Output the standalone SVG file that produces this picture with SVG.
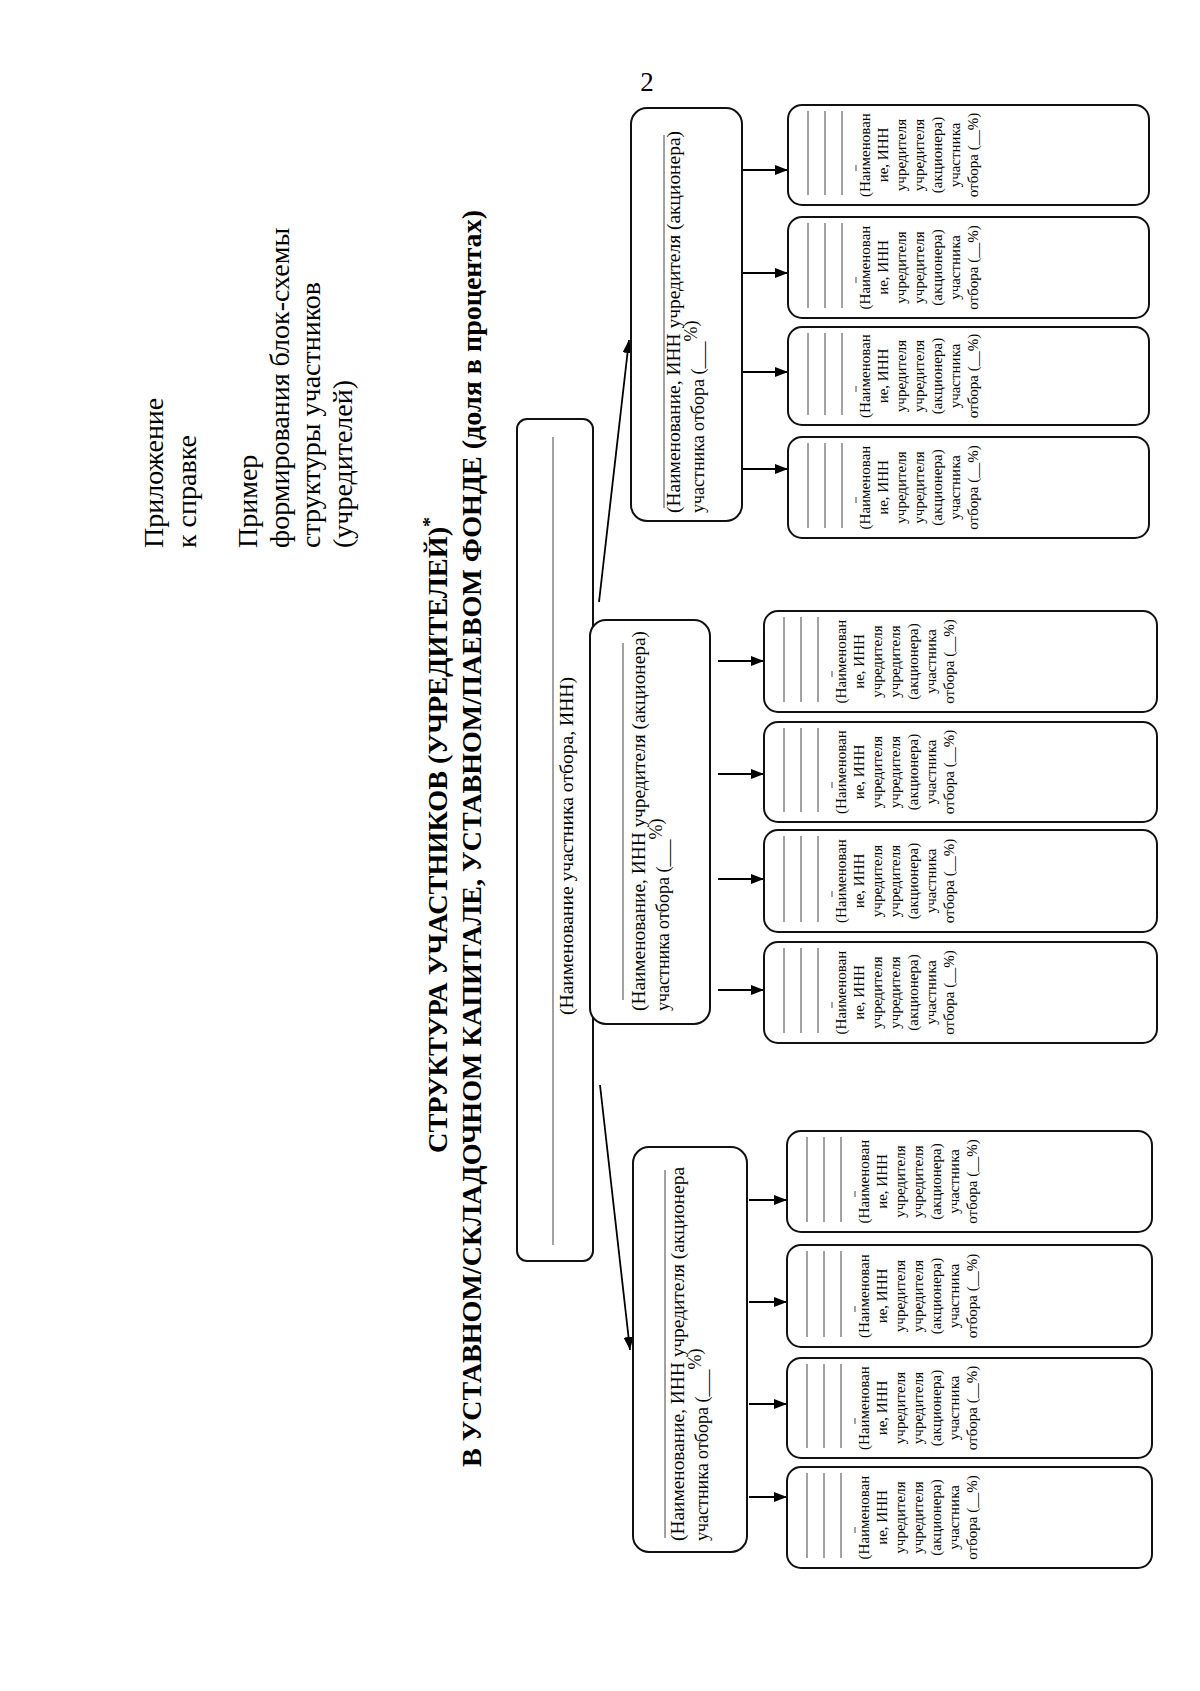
<svg xmlns="http://www.w3.org/2000/svg" width="1200" height="1691" viewBox="0 0 1200 1691">
<style>
.t{font-family:"Liberation Serif","DejaVu Serif",serif;fill:#000}
.box{fill:#fff;stroke:#111;stroke-width:2}
.ul{stroke:#444;stroke-width:1}
.hd{font-size:28px}
.ttl{font-size:27px;font-weight:bold}
.ct{font-size:18px}
.gt{font-size:15px;text-anchor:middle}
.con{stroke:#000;stroke-width:1.8;fill:none;marker-end:url(#ah)}
</style>
<defs>
<marker id="ah" viewBox="0 0 13 10" refX="13" refY="5" markerWidth="13" markerHeight="10" orient="auto" markerUnits="userSpaceOnUse"><path d="M0,0 L13,5 L0,10 z" fill="#000"/></marker>
</defs>
<rect width="1200" height="1691" fill="#fff"/>
<text class="t" x="647" y="91" font-size="27" text-anchor="middle">2</text>
<g transform="translate(0,1691) rotate(-90)">
<g id="header">
<text class="t hd" x="1143" y="163">Приложение</text>
<text class="t hd" x="1143" y="196">к справке</text>
<text class="t hd" x="1143" y="257">Пример</text>
<text class="t hd" x="1143" y="289">формирования блок-схемы</text>
<text class="t hd" x="1143" y="320">структуры участников</text>
<text class="t hd" x="1143" y="352">(учредителей)</text>
</g>
<g id="title">
<text class="t ttl" x="538" y="447" textLength="636" lengthAdjust="spacingAndGlyphs">СТРУКТУРА УЧАСТНИКОВ (УЧРЕДИТЕЛЕЙ)<tspan dy="-11" font-size="19">*</tspan></text>
<text class="t ttl" x="224" y="481" textLength="1257" lengthAdjust="spacingAndGlyphs">В УСТАВНОМ/СКЛАДОЧНОМ КАПИТАЛЕ, УСТАВНОМ/ПАЕВОМ ФОНДЕ (доля в процентах)</text>
</g>
<g id="connectors">
<line class="con" x1="1089" y1="599" x2="1351" y2="629"/>
<line class="con" x1="606" y1="600" x2="341" y2="630"/>
<line class="con" x1="1521" y1="743" x2="1521" y2="788"/>
<line class="con" x1="1418" y1="743" x2="1418" y2="788"/>
<line class="con" x1="1319" y1="743" x2="1319" y2="788"/>
<line class="con" x1="1222" y1="743" x2="1222" y2="788"/>
<line class="con" x1="1030" y1="718" x2="1030" y2="764"/>
<line class="con" x1="917" y1="718" x2="917" y2="764"/>
<line class="con" x1="812" y1="718" x2="812" y2="764"/>
<line class="con" x1="701" y1="718" x2="701" y2="764"/>
<line class="con" x1="491" y1="749" x2="491" y2="787"/>
<line class="con" x1="389" y1="749" x2="389" y2="787"/>
<line class="con" x1="287" y1="749" x2="287" y2="787"/>
<line class="con" x1="194" y1="749" x2="194" y2="787"/>
</g>
<g id="main">
<rect class="box" x="430" y="517" width="842" height="76" rx="10"/>
<line class="ul" x1="446" y1="553" x2="1254" y2="553"/>
<text class="t ct" x="845" y="573" text-anchor="middle" textLength="338" lengthAdjust="spacingAndGlyphs">(Наименование участника отбора, ИНН)</text>
</g>
<g id="child-top">
<rect class="box" x="1170" y="631" width="413" height="111" rx="16"/>
<line class="ul" x1="1183" y1="664" x2="1556" y2="664"/>
<text class="t ct" x="1178" y="680" textLength="382" lengthAdjust="spacingAndGlyphs">(Наименование, ИНН учредителя (акционера)</text>
<text class="t ct" x="1178" y="704">участника отбора (___<tspan dy="-7">%)</tspan></text>
</g>
<g id="child-mid">
<rect class="box" x="667" y="590" width="404" height="120" rx="16"/>
<line class="ul" x1="691" y1="623" x2="1048" y2="623"/>
<text class="t ct" x="680" y="645" textLength="380" lengthAdjust="spacingAndGlyphs">(Наименование, ИНН учредителя (акционера)</text>
<text class="t ct" x="680" y="669">участника отбора (___<tspan dy="-7">%)</tspan></text>
</g>
<g id="child-bottom">
<rect class="box" x="139" y="633" width="405" height="114" rx="16"/>
<line class="ul" x1="153" y1="665" x2="521" y2="665"/>
<text class="t ct" x="150" y="684" textLength="374" lengthAdjust="spacingAndGlyphs">(Наименование, ИНН учредителя (акционера</text>
<text class="t ct" x="150" y="708">участника отбора (___<tspan dy="-7">%)</tspan></text>
</g>

<g id="gc-1-1">
<rect class="box" x="1486" y="788" width="100" height="361" rx="14"/>
<line class="ul" x1="1496" y1="808" x2="1580" y2="808"/><line class="ul" x1="1496" y1="825" x2="1580" y2="825"/><line class="ul" x1="1496" y1="842" x2="1580" y2="842"/>
<line class="ul" x1="1520" y1="856" x2="1526" y2="856"/>
<text class="t gt" y="870"><tspan x="1536">(Наименован</tspan><tspan x="1536" dy="18">ие, ИНН</tspan><tspan x="1536" dy="18">учредителя</tspan><tspan x="1536" dy="18">учредителя</tspan><tspan x="1536" dy="18">(акционера)</tspan><tspan x="1536" dy="18">участника</tspan><tspan x="1536" dy="18">отбора (__%)</tspan></text>
</g>
<g id="gc-1-2">
<rect class="box" x="1373" y="788" width="101" height="361" rx="14"/>
<line class="ul" x1="1383" y1="808" x2="1468" y2="808"/><line class="ul" x1="1383" y1="825" x2="1468" y2="825"/><line class="ul" x1="1383" y1="842" x2="1468" y2="842"/>
<line class="ul" x1="1408" y1="856" x2="1414" y2="856"/>
<text class="t gt" y="870"><tspan x="1423.5">(Наименован</tspan><tspan x="1423.5" dy="18">ие, ИНН</tspan><tspan x="1423.5" dy="18">учредителя</tspan><tspan x="1423.5" dy="18">учредителя</tspan><tspan x="1423.5" dy="18">(акционера)</tspan><tspan x="1423.5" dy="18">участника</tspan><tspan x="1423.5" dy="18">отбора (__%)</tspan></text>
</g>
<g id="gc-1-3">
<rect class="box" x="1266" y="788" width="98" height="361" rx="14"/>
<line class="ul" x1="1276" y1="808" x2="1358" y2="808"/><line class="ul" x1="1276" y1="825" x2="1358" y2="825"/><line class="ul" x1="1276" y1="842" x2="1358" y2="842"/>
<line class="ul" x1="1299" y1="856" x2="1305" y2="856"/>
<text class="t gt" y="870"><tspan x="1315">(Наименован</tspan><tspan x="1315" dy="18">ие, ИНН</tspan><tspan x="1315" dy="18">учредителя</tspan><tspan x="1315" dy="18">учредителя</tspan><tspan x="1315" dy="18">(акционера)</tspan><tspan x="1315" dy="18">участника</tspan><tspan x="1315" dy="18">отбора (__%)</tspan></text>
</g>
<g id="gc-1-4">
<rect class="box" x="1153" y="788" width="101" height="361" rx="14"/>
<line class="ul" x1="1163" y1="808" x2="1248" y2="808"/><line class="ul" x1="1163" y1="825" x2="1248" y2="825"/><line class="ul" x1="1163" y1="842" x2="1248" y2="842"/>
<line class="ul" x1="1188" y1="856" x2="1194" y2="856"/>
<text class="t gt" y="870"><tspan x="1203.5">(Наименован</tspan><tspan x="1203.5" dy="18">ие, ИНН</tspan><tspan x="1203.5" dy="18">учредителя</tspan><tspan x="1203.5" dy="18">учредителя</tspan><tspan x="1203.5" dy="18">(акционера)</tspan><tspan x="1203.5" dy="18">участника</tspan><tspan x="1203.5" dy="18">отбора (__%)</tspan></text>
</g>

<g id="gc-2-1">
<rect class="box" x="979" y="764" width="101" height="393" rx="14"/>
<line class="ul" x1="989" y1="784" x2="1074" y2="784"/><line class="ul" x1="989" y1="801" x2="1074" y2="801"/><line class="ul" x1="989" y1="818" x2="1074" y2="818"/>
<line class="ul" x1="1014" y1="832" x2="1020" y2="832"/>
<text class="t gt" y="846"><tspan x="1029.5">(Наименован</tspan><tspan x="1029.5" dy="18">ие, ИНН</tspan><tspan x="1029.5" dy="18">учредителя</tspan><tspan x="1029.5" dy="18">учредителя</tspan><tspan x="1029.5" dy="18">(акционера)</tspan><tspan x="1029.5" dy="18">участника</tspan><tspan x="1029.5" dy="18">отбора (__%)</tspan></text>
</g>
<g id="gc-2-2">
<rect class="box" x="869" y="764" width="100" height="393" rx="14"/>
<line class="ul" x1="879" y1="784" x2="963" y2="784"/><line class="ul" x1="879" y1="801" x2="963" y2="801"/><line class="ul" x1="879" y1="818" x2="963" y2="818"/>
<line class="ul" x1="903" y1="832" x2="909" y2="832"/>
<text class="t gt" y="846"><tspan x="919">(Наименован</tspan><tspan x="919" dy="18">ие, ИНН</tspan><tspan x="919" dy="18">учредителя</tspan><tspan x="919" dy="18">учредителя</tspan><tspan x="919" dy="18">(акционера)</tspan><tspan x="919" dy="18">участника</tspan><tspan x="919" dy="18">отбора (__%)</tspan></text>
</g>
<g id="gc-2-3">
<rect class="box" x="759" y="764" width="102" height="393" rx="14"/>
<line class="ul" x1="769" y1="784" x2="855" y2="784"/><line class="ul" x1="769" y1="801" x2="855" y2="801"/><line class="ul" x1="769" y1="818" x2="855" y2="818"/>
<line class="ul" x1="794" y1="832" x2="800" y2="832"/>
<text class="t gt" y="846"><tspan x="810">(Наименован</tspan><tspan x="810" dy="18">ие, ИНН</tspan><tspan x="810" dy="18">учредителя</tspan><tspan x="810" dy="18">учредителя</tspan><tspan x="810" dy="18">(акционера)</tspan><tspan x="810" dy="18">участника</tspan><tspan x="810" dy="18">отбора (__%)</tspan></text>
</g>
<g id="gc-2-4">
<rect class="box" x="648" y="764" width="101" height="393" rx="14"/>
<line class="ul" x1="658" y1="784" x2="743" y2="784"/><line class="ul" x1="658" y1="801" x2="743" y2="801"/><line class="ul" x1="658" y1="818" x2="743" y2="818"/>
<line class="ul" x1="683" y1="832" x2="689" y2="832"/>
<text class="t gt" y="846"><tspan x="698.5">(Наименован</tspan><tspan x="698.5" dy="18">ие, ИНН</tspan><tspan x="698.5" dy="18">учредителя</tspan><tspan x="698.5" dy="18">учредителя</tspan><tspan x="698.5" dy="18">(акционера)</tspan><tspan x="698.5" dy="18">участника</tspan><tspan x="698.5" dy="18">отбора (__%)</tspan></text>
</g>

<g id="gc-3-1">
<rect class="box" x="459" y="787" width="101" height="365" rx="14"/>
<line class="ul" x1="469" y1="807" x2="554" y2="807"/><line class="ul" x1="469" y1="824" x2="554" y2="824"/><line class="ul" x1="469" y1="841" x2="554" y2="841"/>
<line class="ul" x1="494" y1="855" x2="500" y2="855"/>
<text class="t gt" y="869"><tspan x="509.5">(Наименован</tspan><tspan x="509.5" dy="18">ие, ИНН</tspan><tspan x="509.5" dy="18">учредителя</tspan><tspan x="509.5" dy="18">учредителя</tspan><tspan x="509.5" dy="18">(акционера)</tspan><tspan x="509.5" dy="18">участника</tspan><tspan x="509.5" dy="18">отбора (__%)</tspan></text>
</g>
<g id="gc-3-2">
<rect class="box" x="344" y="787" width="102" height="365" rx="14"/>
<line class="ul" x1="354" y1="807" x2="440" y2="807"/><line class="ul" x1="354" y1="824" x2="440" y2="824"/><line class="ul" x1="354" y1="841" x2="440" y2="841"/>
<line class="ul" x1="379" y1="855" x2="385" y2="855"/>
<text class="t gt" y="869"><tspan x="395">(Наименован</tspan><tspan x="395" dy="18">ие, ИНН</tspan><tspan x="395" dy="18">учредителя</tspan><tspan x="395" dy="18">учредителя</tspan><tspan x="395" dy="18">(акционера)</tspan><tspan x="395" dy="18">участника</tspan><tspan x="395" dy="18">отбора (__%)</tspan></text>
</g>
<g id="gc-3-3">
<rect class="box" x="233" y="787" width="100" height="365" rx="14"/>
<line class="ul" x1="243" y1="807" x2="327" y2="807"/><line class="ul" x1="243" y1="824" x2="327" y2="824"/><line class="ul" x1="243" y1="841" x2="327" y2="841"/>
<line class="ul" x1="267" y1="855" x2="273" y2="855"/>
<text class="t gt" y="869"><tspan x="283">(Наименован</tspan><tspan x="283" dy="18">ие, ИНН</tspan><tspan x="283" dy="18">учредителя</tspan><tspan x="283" dy="18">учредителя</tspan><tspan x="283" dy="18">(акционера)</tspan><tspan x="283" dy="18">участника</tspan><tspan x="283" dy="18">отбора (__%)</tspan></text>
</g>
<g id="gc-3-4">
<rect class="box" x="123" y="787" width="101" height="365" rx="14"/>
<line class="ul" x1="133" y1="807" x2="218" y2="807"/><line class="ul" x1="133" y1="824" x2="218" y2="824"/><line class="ul" x1="133" y1="841" x2="218" y2="841"/>
<line class="ul" x1="158" y1="855" x2="164" y2="855"/>
<text class="t gt" y="869"><tspan x="173.5">(Наименован</tspan><tspan x="173.5" dy="18">ие, ИНН</tspan><tspan x="173.5" dy="18">учредителя</tspan><tspan x="173.5" dy="18">учредителя</tspan><tspan x="173.5" dy="18">(акционера)</tspan><tspan x="173.5" dy="18">участника</tspan><tspan x="173.5" dy="18">отбора (__%)</tspan></text>
</g>
</g>
</svg>
